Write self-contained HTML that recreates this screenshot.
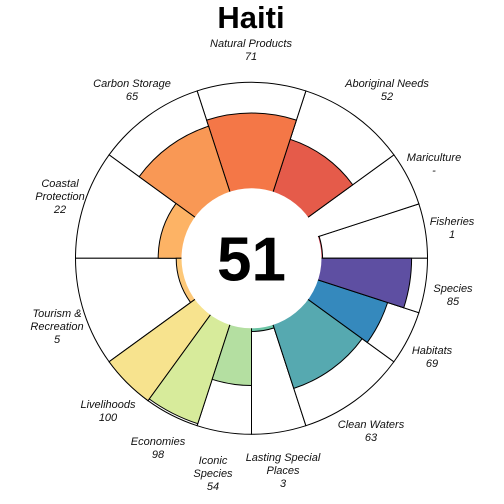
<!DOCTYPE html>
<html><head><meta charset="utf-8"><style>
body{margin:0;background:#fff}
svg{display:block}
text{font-family:"Liberation Sans",sans-serif}
.lb{font-size:11px;font-style:italic;fill:#111}
</style></head><body>
<svg id="c" width="504" height="504">
<text x="251" y="28" text-anchor="middle" font-size="31" font-weight="bold">Haiti</text>
</svg>
<script>
const goals=["Fisheries","Mariculture","Aboriginal Needs","Natural Products","Carbon Storage","Coastal Protection","Tourism & Recreation","Livelihoods","Economies","Iconic Species","Lasting Special Places","Clean Waters","Habitats","Species"];
const scores=[1,null,52,71,65,22,5,100,98,54,3,63,69,85];
const weights=[1,1,2,2,2,2,2,1,1,1,1,2,1,1];
const colors=["#d53e4f","#e0504a","#e55b4a","#f47747","#f99855","#fdb365","#fdc878","#f7e38e","#d7eb9b","#b4dfa1","#6cc4a5","#56a9b0","#3589bd","#5e4fa2"];
const overall=51;
const labelText=[["Fisheries","1"],["Mariculture","-"],["Aboriginal Needs","52"],["Natural Products","71"],["Carbon Storage","65"],["Coastal","Protection","22"],["Tourism &","Recreation","5"],["Livelihoods","100"],["Economies","98"],["Iconic","Species","54"],["Lasting Special","Places","3"],["Clean Waters","63"],["Habitats","69"],["Species","85"]];
const labelPos=[[452,221],[434,157],[387,83],[251,43],[132,83],[60,183],[57,313],[108,404],[158,441],[213,460],[283,457],[371,424],[432,350],[453,288]];
const cx=251.5,cy=258.3,r0=70,R=176;
const svg=document.getElementById('c');
const NS="http://www.w3.org/2000/svg";
function rad(s){return r0+(R-r0)*s/100;}
function pt(r,a){const t=a*Math.PI/180;return [cx+r*Math.cos(t),cy-r*Math.sin(t)];}
function sector(r1,r2,a1,a2){
 const p1=pt(r2,a1),p2=pt(r2,a2),p3=pt(r1,a2),p4=pt(r1,a1);
 return `M${p1} A${r2},${r2} 0 0 0 ${p2} L${p3} A${r1},${r1} 0 0 1 ${p4} Z`;
}
const tw=weights.reduce((a,b)=>a+b,0);
let a=0;
const angles=weights.map(w=>{const s=a;a+=360*w/tw;return [s,a];});
angles.forEach(([a1,a2],i)=>{
 const bg=document.createElementNS(NS,'path');
 bg.setAttribute('d',sector(0,R,a1,a2));
 bg.setAttribute('fill','#fff');bg.setAttribute('stroke','#000');bg.setAttribute('stroke-width','1');
 
 
 svg.appendChild(bg);
});
angles.forEach(([a1,a2],i)=>{
 if(scores[i]==null)return;
 const p=document.createElementNS(NS,'path');
 p.setAttribute('d',sector(0,rad(scores[i]),a1,a2));
 p.setAttribute('fill',colors[i]);p.setAttribute('stroke','#000');p.setAttribute('stroke-width','1');
 
 
 svg.appendChild(p);
});
const c=document.createElementNS(NS,'circle');
c.setAttribute('cx',cx);c.setAttribute('cy',cy);c.setAttribute('r',r0);c.setAttribute('fill','#fff');


svg.appendChild(c);
const t=document.createElementNS(NS,'text');
t.setAttribute('x',cx);t.setAttribute('y',cy+22);t.setAttribute('text-anchor','middle');
t.setAttribute('font-size','62');t.setAttribute('font-weight','bold');t.textContent=overall;


svg.appendChild(t);
labelText.forEach((lines,i)=>{
 const g=document.createElementNS(NS,'text');
 g.setAttribute('class','lb');g.setAttribute('text-anchor','middle');
 
 
 lines.forEach((l,j)=>{
  const s=document.createElementNS(NS,'tspan');
  s.setAttribute('x',labelPos[i][0]);s.setAttribute('y',labelPos[i][1]+4+13*j);
  s.textContent=l;g.appendChild(s);
 });
 svg.appendChild(g);
});
</script>
</body></html>
